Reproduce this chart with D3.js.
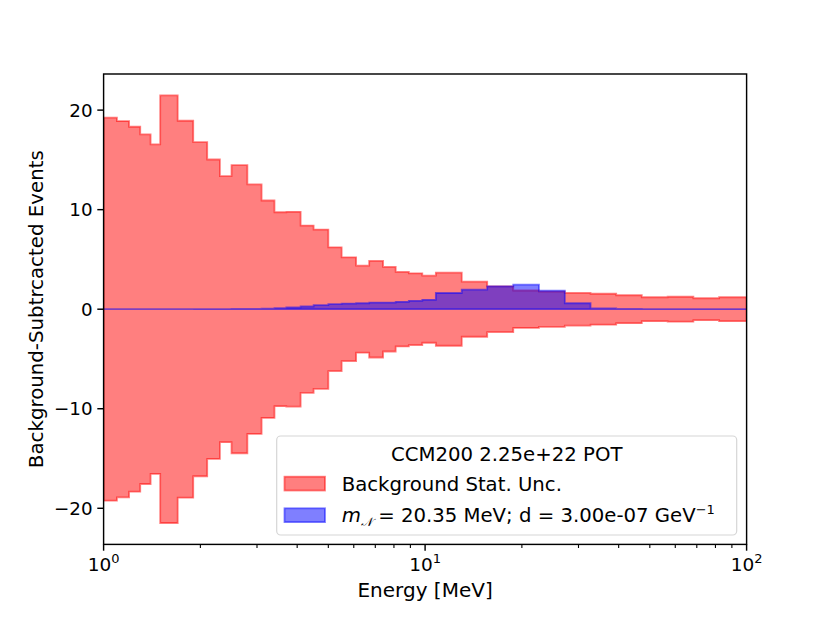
<!DOCTYPE html>
<html>
<head>
<meta charset="utf-8">
<script src="https://cdn.jsdelivr.net/npm/d3@7"></script>
<style>
  body { margin: 0; background: #fff; }
  svg { display: block; font-family: "DejaVu Sans", sans-serif; }
</style>
</head>
<body>
<svg id="chart" width="830" height="623"></svg>
<script>
// bin edges in MeV (37 bins)
const binEdges = [1.0, 1.1, 1.2, 1.3, 1.4, 1.5, 1.7, 1.9, 2.1, 2.3, 2.5, 2.8, 3.1, 3.4, 3.7,
    4.1, 4.5, 5.0, 5.5, 6.1, 6.7, 7.4, 8.1, 8.9, 9.8, 10.8, 13.0, 15.6, 18.8, 22.6, 27.2,
    32.7, 39.3, 47.2, 56.8, 68.3, 82.1, 100];

// background statistical uncertainty per bin (band is +/- this)
const bkgStatUnc = [19.24, 18.9, 18.33, 17.56, 16.55, 21.48, 18.93, 16.78, 15.04, 13.36,
    14.47, 12.53, 10.92, 9.74, 9.78, 8.4, 8.0, 6.22, 5.21, 4.37, 4.85, 4.25, 3.74, 3.6,
    3.37, 3.67, 2.77, 2.3, 1.88, 1.77, 1.64, 1.55, 1.4, 1.2, 1.25, 1.1, 1.2];

// signal events per bin
const signalEvents = [0.005, 0.005, 0.005, 0.005, 0.005, 0.005, 0.005, 0.008, 0.01, 0.015,
    0.02, 0.03, 0.05, 0.1, 0.17, 0.27, 0.4, 0.5, 0.57, 0.6, 0.67, 0.67, 0.74, 0.84,
    0.94, 1.63, 1.96, 2.29, 2.46, 1.86, 0.6, 0.07, 0.03, 0.01, 0.01, 0.01, 0.01];

const yTicks = [-20, -10, 0, 10, 20];
const xMajor = [1, 10, 100];

const svg = d3.select("#chart");
const margin = { left: 103.6, right: 746.6, top: 74, bottom: 544.4 };
const width = margin.right - margin.left;
const height = margin.bottom - margin.top;

const yMax = 1.1 * d3.max(bkgStatUnc);

const x = d3.scaleLog().domain([1, 100]).range([margin.left, margin.right]);
const y = d3.scaleLinear().domain([-yMax, yMax]).range([margin.bottom, margin.top]);

svg.append("defs").append("clipPath").attr("id", "plotclip")
    .append("rect")
    .attr("x", margin.left).attr("y", margin.top)
    .attr("width", width).attr("height", height);

// step points: each bin value at its left edge, last value repeated at the final edge
function stepPoints(values) {
    return binEdges.map((e, i) => ({ e: e, v: values[Math.min(i, values.length - 1)] }));
}

const plot = svg.append("g").attr("clip-path", "url(#plotclip)");

const bandArea = d3.area()
    .curve(d3.curveStepAfter)
    .x(d => x(d.e))
    .y0(d => y(-d.v))
    .y1(d => y(d.v));

plot.append("path")
    .datum(stepPoints(bkgStatUnc))
    .attr("d", bandArea)
    .attr("fill", "rgba(255,0,0,0.5)")
    .attr("stroke", "rgba(255,0,0,0.5)")
    .attr("stroke-width", 1.8);

const sigArea = d3.area()
    .curve(d3.curveStepAfter)
    .x(d => x(d.e))
    .y0(y(0))
    .y1(d => y(d.v));

plot.append("path")
    .datum(stepPoints(signalEvents))
    .attr("d", sigArea)
    .attr("fill", "rgba(0,0,255,0.5)")
    .attr("stroke", "rgba(0,0,255,0.5)")
    .attr("stroke-width", 1.8);

// axes
const xAxis = svg.append("g").attr("transform", `translate(0,${margin.bottom})`);
const xMinor = [];
[1, 10].forEach(dec => { for (let k = 2; k <= 9; k++) xMinor.push(dec * k); });

xAxis.selectAll(".minor").data(xMinor).enter().append("line")
    .attr("x1", d => x(d)).attr("x2", d => x(d))
    .attr("y1", 0).attr("y2", 3.6)
    .attr("stroke", "#000").attr("stroke-width", 1.1);

xAxis.selectAll(".major").data(xMajor).enter().append("line")
    .attr("x1", d => x(d)).attr("x2", d => x(d))
    .attr("y1", 0).attr("y2", 6.3)
    .attr("stroke", "#000").attr("stroke-width", 1.44);

const xLabels = xAxis.selectAll(".xl").data(xMajor).enter().append("text")
    .attr("x", d => x(d))
    .attr("y", 26.5)
    .attr("text-anchor", "middle")
    .attr("font-size", 18.5)
    .attr("fill", "#000");
xLabels.append("tspan").text("10");
xLabels.append("tspan")
    .attr("dy", -8)
    .attr("font-size", 13)
    .text(d => Math.round(Math.log10(d)));

const yAxis = svg.append("g").attr("transform", `translate(${margin.left},0)`);
yAxis.selectAll("line").data(yTicks).enter().append("line")
    .attr("x1", -6.3).attr("x2", 0)
    .attr("y1", d => y(d)).attr("y2", d => y(d))
    .attr("stroke", "#000").attr("stroke-width", 1.44);

yAxis.selectAll("text").data(yTicks).enter().append("text")
    .attr("x", -11)
    .attr("y", d => y(d))
    .attr("dy", "0.36em")
    .attr("text-anchor", "end")
    .attr("font-size", 18.3)
    .attr("fill", "#000")
    .text(d => d < 0 ? "\u2212" + Math.abs(d) : d);

// frame
svg.append("rect")
    .attr("x", margin.left).attr("y", margin.top)
    .attr("width", width).attr("height", height)
    .attr("fill", "none").attr("stroke", "#000").attr("stroke-width", 1.44);

// axis labels
svg.append("text")
    .attr("x", (margin.left + margin.right) / 2)
    .attr("y", 597)
    .attr("text-anchor", "middle")
    .attr("font-size", 20)
    .text("Energy [MeV]");

svg.append("text")
    .attr("transform", `translate(42.5,${(margin.top + margin.bottom) / 2}) rotate(-90)`)
    .attr("text-anchor", "middle")
    .attr("font-size", 19.8)
    .text("Background-Subtrcacted Events");

// legend
const legend = svg.append("g");
legend.append("rect")
    .attr("x", 276.7).attr("y", 436)
    .attr("width", 460).attr("height", 99)
    .attr("rx", 4)
    .attr("fill", "rgba(255,255,255,0.8)")
    .attr("stroke", "#d6d6d6").attr("stroke-width", 1.2);

legend.append("text")
    .attr("x", 506.7).attr("y", 460.5)
    .attr("text-anchor", "middle")
    .attr("font-size", 19.7)
    .text("CCM200 2.25e+22 POT");

const entries = [
    { fill: "rgba(255,0,0,0.5)", stroke: "rgba(255,0,0,0.5)", y: 476.7 },
    { fill: "rgba(0,0,255,0.5)", stroke: "rgba(0,0,255,0.5)", y: 508.3 }
];
legend.selectAll(".patch").data(entries).enter().append("rect")
    .attr("x", 284.5).attr("y", d => d.y)
    .attr("width", 40.5).attr("height", 13.8)
    .attr("fill", d => d.fill)
    .attr("stroke", d => d.stroke).attr("stroke-width", 1.8);

legend.append("text")
    .attr("x", 341.7).attr("y", 490.5)
    .attr("font-size", 19.7)
    .text("Background Stat. Unc.");

const sigLabel = legend.append("text")
    .attr("x", 341.7).attr("y", 522)
    .attr("font-size", 19.7);
sigLabel.append("tspan").attr("font-style", "italic").text("m");
sigLabel.append("tspan").attr("dy", 4).attr("font-size", 12).attr("font-style", "italic").text("\uD835\uDCA9");
sigLabel.append("tspan").attr("dy", -4).text(" = 20.35 MeV; d = 3.00e-07 GeV");
sigLabel.append("tspan").attr("dy", -8).attr("font-size", 13).text("\u22121");
</script>
</body>
</html>
